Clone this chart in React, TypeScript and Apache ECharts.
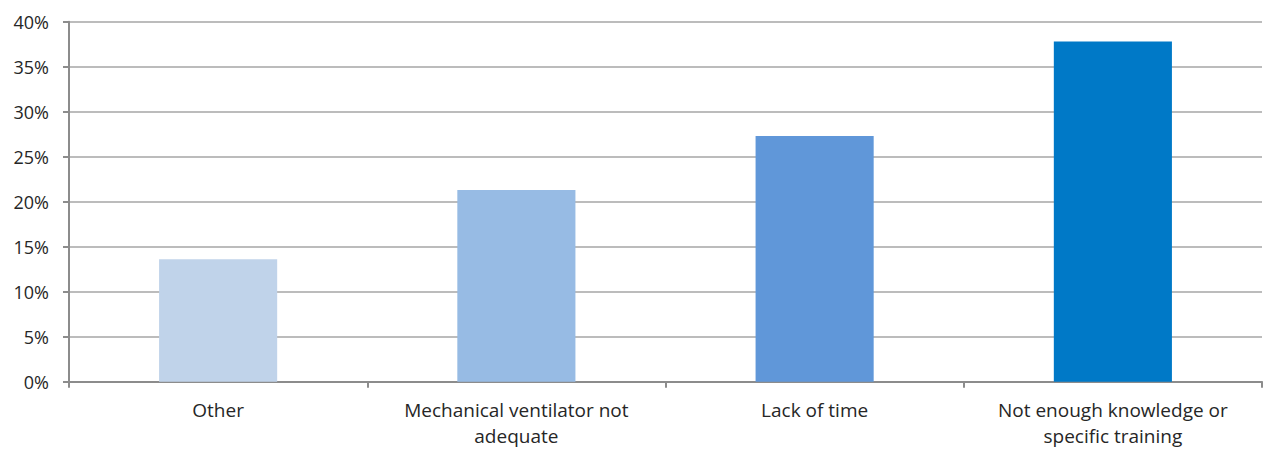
import React, { useEffect, useRef } from "react";
import * as echarts from "echarts";

const categories = [
  "Other",
  "Mechanical ventilator not\nadequate",
  "Lack of time",
  "Not enough knowledge or\nspecific training",
];
const values = [13.6, 21.3, 27.3, 37.8];
const barColors = ["#C0D3EA", "#97BBE4", "#6097D9", "#0079C7"];

const FONT = "'Open Sans', 'Noto Sans', sans-serif";

export default function App() {
  const ref = useRef<HTMLDivElement>(null);

  useEffect(() => {
    if (!ref.current) return;
    const chart = echarts.init(ref.current, null, { renderer: "svg" });
    chart.setOption({
      animation: false,
      backgroundColor: "#ffffff",
      grid: { left: 69, right: 3, top: 21.7, bottom: 68.3, containLabel: false },
      xAxis: {
        type: "category",
        data: categories,
        axisLine: { lineStyle: { color: "#8C8C8C", width: 2 } },
        axisTick: { show: true, length: 6, alignWithLabel: false, lineStyle: { color: "#8C8C8C", width: 2 } },
        axisLabel: {
          color: "#262626",
          fontFamily: FONT,
          fontSize: 19,
          lineHeight: 26,
          margin: 15,
          interval: 0,
        },
      },
      yAxis: {
        type: "value",
        min: 0,
        max: 40,
        interval: 5,
        axisLine: { show: true, lineStyle: { color: "#8C8C8C", width: 2 } },
        axisTick: { show: true, length: 6, lineStyle: { color: "#8C8C8C", width: 2 } },
        splitLine: { lineStyle: { color: "#A6A6A6", width: 1.5 } },
        axisLabel: {
          color: "#262626",
          fontFamily: FONT,
          fontSize: 18,
          margin: 20,
          formatter: (v: number) => `${v}%`,
        },
      },
      series: [
        {
          type: "bar",
          data: values.map((v, i) => ({ value: v, itemStyle: { color: barColors[i] } })),
          barWidth: "39.6%",
        },
      ],
    });
    return () => chart.dispose();
  }, []);

  return <div ref={ref} style={{ width: 1265, height: 450, position: "absolute", left: 0, top: 0 }} />;
}
